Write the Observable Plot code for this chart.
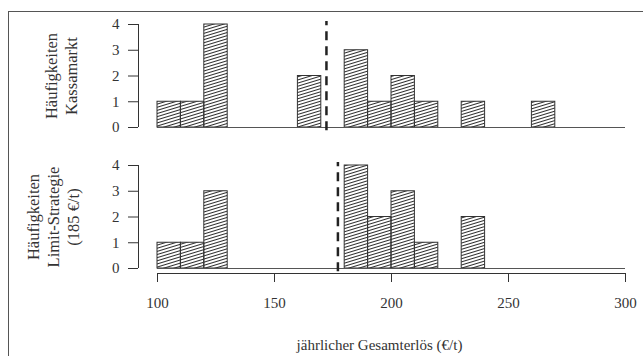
<!DOCTYPE html>
<html>
<head>
<meta charset="utf-8">
<script src="https://cdn.jsdelivr.net/npm/d3@7"></script>
<script src="https://cdn.jsdelivr.net/npm/@observablehq/plot@0.6"></script>
<style>
  html, body { margin: 0; padding: 0; background: #fff; }
  #wrap { position: relative; width: 643px; height: 356px; overflow: hidden; }
  #frame { position: absolute; left: 8px; top: 11px; width: 700px; height: 400px;
           border-top: 1.5px solid #555; border-left: 1.5px solid #555; }
  .panel { position: absolute; left: 0; }
</style>
</head>
<body>
<svg width="0" height="0" style="position:absolute">
  <defs>
    <pattern id="hatch" patternUnits="userSpaceOnUse" width="12" height="3" patternTransform="rotate(-17)">
      <line x1="-2" y1="1.5" x2="14" y2="1.5" stroke="#222" stroke-width="0.95"/>
    </pattern>
  </defs>
</svg>
<div id="wrap"><div id="frame"></div></div>
<script>
const binWidth = 10;
const kassaBins   = [100, 110, 120, 160, 180, 190, 200, 210, 230, 260];
const kassaCounts = [1, 1, 4, 2, 3, 1, 2, 1, 1, 1];
const kassaMean = 172.2;
const limitBins   = [100, 110, 120, 180, 190, 200, 210, 230];
const limitCounts = [1, 1, 3, 4, 2, 3, 1, 2];
const limitMean = 177.1;
const yTicks = [0, 1, 2, 3, 4];
const xTicks = [100, 150, 200, 250, 300];
const labelTop = "Häufigkeiten\nKassamarkt";
const labelBottom = "Häufigkeiten\nLimit-Strategie\n(185 €/t)";
const xTitle = "jährlicher Gesamterlös (€/t)";

const toRows = (bins, counts) => bins.map((b, i) => ({x0: b, x1: b + binWidth, count: counts[i]}));

const ink = "#333";
const style = {fontFamily: "'Liberation Serif', serif", fontSize: "15px", color: ink, background: "transparent", overflow: "visible"};

function panel(rows, mean, label, labelDx, withX, height, marginBottom) {
  const marks = [
    Plot.rect(rows, {x1: "x0", x2: "x1", y1: 0, y2: "count", fill: "url(#hatch)", stroke: ink, strokeWidth: 1}),
    Plot.ruleY([0], {x1: 100, x2: 300, stroke: "#555", strokeWidth: 1.2}),
    Plot.ruleX([100], {y1: 0, y2: 4, dx: -19, stroke: ink, strokeWidth: 1}),
    Plot.axisY({ticks: yTicks, tickSize: 10, tickPadding: 9, dx: -19, tickFormat: d => d, label: null, stroke: ink}),
    Plot.ruleX([mean], {y1: -0.13, y2: 4.12, stroke: "#222", strokeWidth: 2.5, strokeDasharray: "9,6"}),
    Plot.text([label], {frameAnchor: "left", rotate: -90, dx: labelDx, lineHeight: 1.2, fontSize: 16.5, textAnchor: "middle", lineAnchor: "middle", fill: ink})
  ];
  if (withX) {
    marks.push(
      Plot.ruleY([0], {x1: 100, x2: 300, dy: 5, stroke: ink, strokeWidth: 1}),
      Plot.axisX({ticks: xTicks, tickSize: 9, tickPadding: 15, dy: 5, tickFormat: d => d, label: null, stroke: ink}),
      Plot.text([xTitle], {frameAnchor: "bottom", dy: 77, dx: -12, lineAnchor: "middle", textAnchor: "middle", fill: ink})
    );
  }
  return Plot.plot({
    width: 643, height,
    marginLeft: 157, marginRight: 18, marginTop: 24, marginBottom,
    x: {domain: [100, 300], axis: null},
    y: {domain: [0, 4], axis: null},
    style,
    marks
  });
}

const wrap = document.getElementById("wrap");
const p1 = panel(toRows(kassaBins, kassaCounts), kassaMean, labelTop, -97, false, 141, 14);
p1.classList.add("panel"); p1.style.top = "0px";
const p2 = panel(toRows(limitBins, limitCounts), limitMean, labelBottom, -105, true, 215, 88);
p2.classList.add("panel"); p2.style.top = "141px";
wrap.appendChild(p1);
wrap.appendChild(p2);
</script>
</body>
</html>
